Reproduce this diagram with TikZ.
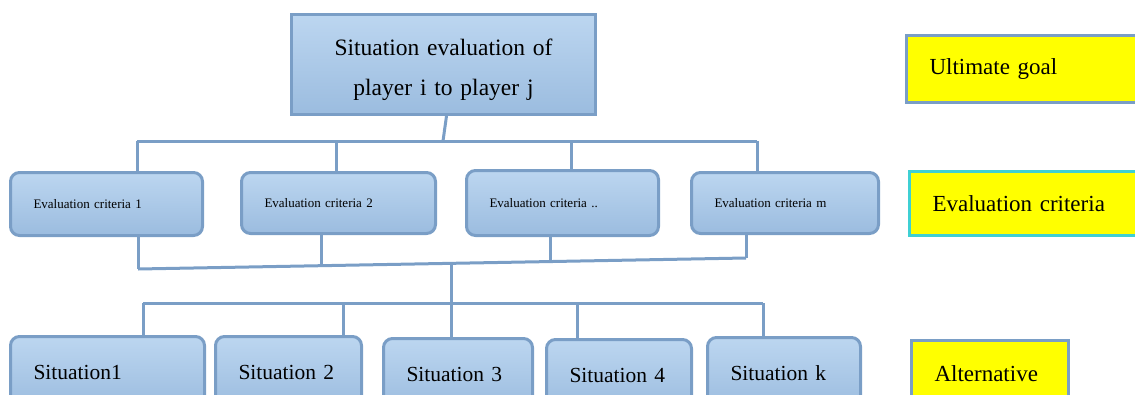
\documentclass[tikz,border=0pt]{standalone}
\usepackage{fontspec}
\setmainfont{Liberation Serif}
\usetikzlibrary{calc}
\definecolor{edge}{HTML}{7A9EC6}
\definecolor{topc}{HTML}{BCD6F0}
\definecolor{botc}{HTML}{9BBCDF}
\definecolor{cyanedge}{HTML}{3FD0D4}
\definecolor{yel}{RGB}{255,255,0}
\tikzset{
 conn/.style={draw=edge,line width=3pt},
 bluebox/.style={draw=edge,line width=3pt,top color=topc,bottom color=botc,inner ysep=0pt,anchor=north west},
 goalbox/.style={bluebox,rectangle,inner xsep=0pt,align=center,font=\rmfamily\fontsize{23.5}{40}\selectfont},
 critbox/.style={bluebox,rounded corners=9pt,inner xsep=23pt,align=left,font=\rmfamily\fontsize{13}{15}\selectfont},
 sitbox/.style={bluebox,rounded corners=9pt,minimum height=72pt,inner xsep=23pt,align=left,font=\rmfamily\fontsize{21.5}{26}\selectfont},
 ybox/.style={draw=edge,line width=3pt,fill=yel,anchor=north west,inner xsep=23pt,inner ysep=0pt,align=left,font=\rmfamily\fontsize{23}{27}\selectfont}
}
\begin{document}
\begin{tikzpicture}[x=1pt,y=-1pt]
\useasboundingbox (0,0) rectangle (1135,394);
\clip (0,0) rectangle (1135,394);
% top goal
\node[goalbox,text width=304pt,minimum height=100pt] (goal) at (290,13) {\rule{0pt}{27pt}Situation evaluation of\\player i to player j};
% criteria
\node[critbox,text width=146pt,minimum height=63pt] (c1) at (9,171) {Evaluation criteria 1};
\node[critbox,text width=148pt,minimum height=61pt] (c2) at (240,171) {Evaluation criteria 2};
\node[critbox,text width=146pt,minimum height=65pt] (c3) at (465,169) {Evaluation criteria ..};
\node[critbox,text width=141pt,minimum height=61pt] (c4) at (690,171) {Evaluation criteria m};
% situations
\node[sitbox,text width=148pt] (s1) at (9,335) {\mbox{Situation1}};
\node[sitbox,text width=100pt] (s2) at (214,335) {\mbox{Situation 2}};
\node[sitbox,text width=103pt] (s3) at (382,337) {\mbox{Situation 3}};
\node[sitbox,text width=99pt] (s4) at (545,338) {\mbox{Situation 4}};
\node[sitbox,text width=107pt] (s5) at (706,336) {\mbox{Situation k}};
% legend
\node[ybox,text width=204pt,minimum height=67pt] (lg1) at (905,34) {Ultimate goal};
\node[ybox,draw=cyanedge,text width=204pt,minimum height=64pt] (lg2) at (908,170) {Evaluation criteria};
\node[ybox,text width=111pt,minimum height=66pt] (lg3) at (910,339) {Alternative};
% upper connectors
\coordinate (hub1) at (443,141);
\coordinate (b1) at (137,141);
\coordinate (b2) at (336,141);
\coordinate (b3) at (571,141);
\coordinate (b4) at (757,141);
\draw[conn] ([xshift=3pt]goal.south) -- (hub1);
\draw[conn] (b1) -- (b4);
\draw[conn] (b1) -- (b1 |- c1.north);
\draw[conn] (b2) -- (b2 |- c2.north);
\draw[conn] (b3) -- (b3 |- c3.north);
\draw[conn] (b4) -- (b4 |- c4.north);
% lower connectors
\coordinate (d1) at (138,269);
\coordinate (d4) at (746,258);
\coordinate (d2) at ($(d1)!0.301!(d4)$);
\coordinate (d3) at ($(d1)!0.679!(d4)$);
\coordinate (hub2) at ($(d1)!0.515!(d4)$);
\draw[conn] (d1) -- (d4);
\draw[conn] (d1 |- c1.south) -- (d1);
\draw[conn] (d2 |- c2.south) -- (d2);
\draw[conn] (d3 |- c3.south) -- (d3);
\draw[conn] (d4 |- c4.south) -- (d4);
\draw[conn] (hub2) -- (hub2 |- s3.north);
\coordinate (e1) at (143,303);
\coordinate (e2) at (343,303);
\coordinate (e4) at (577,303);
\coordinate (e5) at (763,303);
\draw[conn] (e1) -- (e5);
\draw[conn] (e1) -- (e1 |- s1.north);
\draw[conn] (e2) -- (e2 |- s2.north);
\draw[conn] (e4) -- (e4 |- s4.north);
\draw[conn] (e5) -- (e5 |- s5.north);
\end{tikzpicture}
\end{document}
